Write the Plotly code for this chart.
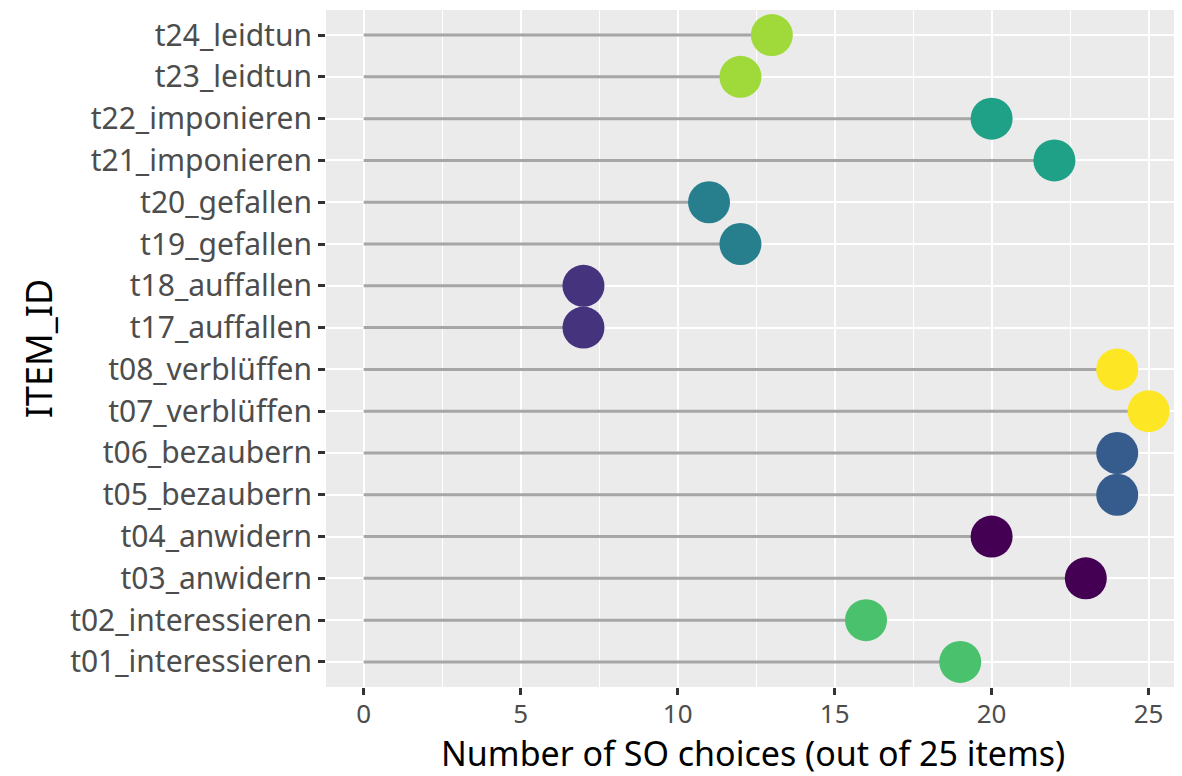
import plotly.graph_objects as go

items = ["t01_interessieren", "t02_interessieren", "t03_anwidern", "t04_anwidern",
         "t05_bezaubern", "t06_bezaubern", "t07_verblüffen", "t08_verblüffen",
         "t17_auffallen", "t18_auffallen", "t19_gefallen", "t20_gefallen",
         "t21_imponieren", "t22_imponieren", "t23_leidtun", "t24_leidtun"]
values = [19, 16, 23, 20, 24, 24, 25, 24, 7, 7, 12, 11, 22, 20, 12, 13]
verbs = [s.split("_", 1)[1] for s in items]

verb_order = ["anwidern", "auffallen", "bezaubern", "gefallen",
              "imponieren", "interessieren", "leidtun", "verblüffen"]
viridis8 = ["#440154", "#46337E", "#365C8D", "#277F8E",
            "#1FA187", "#4AC16D", "#9FDA3A", "#FDE725"]
cmap = dict(zip(verb_order, viridis8))

x_title = "Number of SO choices (out of 25 items)"
y_title = "ITEM_ID"

FONT = "Noto Sans"

fig = go.Figure()

lx, ly = [], []
for it, v in zip(items, values):
    lx += [0, v, None]
    ly += [it, it, None]
fig.add_trace(go.Scatter(x=lx, y=ly, mode="lines",
                         line=dict(color="#A6A6A6", width=3),
                         hoverinfo="skip", showlegend=False))

fig.add_trace(go.Scatter(x=values, y=items, mode="markers",
                         marker=dict(size=42, color=[cmap[v] for v in verbs],
                                     line=dict(width=0), opacity=1),
                         showlegend=False))

fig.update_layout(
    width=1174, height=768,
    margin=dict(l=318, r=2, t=2, b=89),
    paper_bgcolor="white", plot_bgcolor="#EBEBEB",
    font=dict(family=FONT, color="#4D4D4D", size=29),
    showlegend=False,
)
fig.add_annotation(text=x_title, xref="paper", yref="paper", x=0.5, y=0,
                   xanchor="center", yanchor="top", yshift=-42, showarrow=False,
                   borderpad=0,
                   font=dict(size=34, color="black", family=FONT))
fig.update_xaxes(
    range=[-1.2, 26.0], tickvals=[0, 5, 10, 15, 20, 25],
    showgrid=True, gridcolor="white", gridwidth=2.2,
    minor=dict(tickvals=[2.5, 7.5, 12.5, 17.5, 22.5], showgrid=True,
               gridcolor="white", gridwidth=1.1),
    zeroline=False, ticks="outside", ticklen=7, tickwidth=2.5, tickcolor="#333333",
    tickfont=dict(size=26, color="#4D4D4D", family=FONT),
    ticklabelstandoff=-3,
    automargin=False,
)
fig.update_yaxes(
    categoryorder="array", categoryarray=items, range=[-0.6, 15.6],
    showgrid=True, gridcolor="white", gridwidth=2.2,
    zeroline=False, ticks="outside", ticklen=7, tickwidth=2.5, tickcolor="#333333",
    tickfont=dict(size=30, color="#4D4D4D", family=FONT),
    automargin=False,
    title=dict(text=y_title, font=dict(size=36, color="black", family=FONT), standoff=6),
)

fig.write_html("out.html")
